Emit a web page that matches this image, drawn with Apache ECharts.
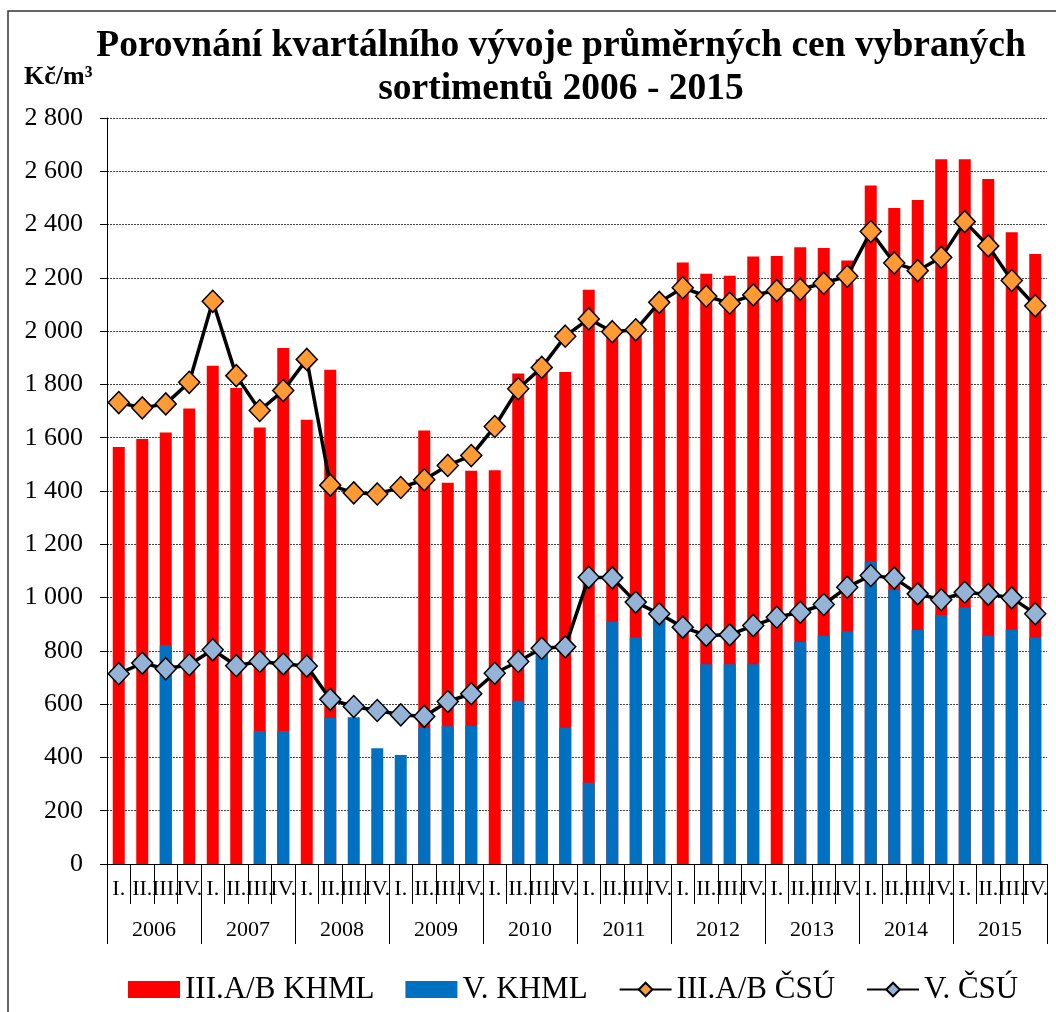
<!DOCTYPE html>
<html>
<head>
<meta charset="utf-8">
<script src="https://cdn.jsdelivr.net/npm/echarts@6/dist/echarts.min.js"></script>
<style>
  html, body { margin: 0; padding: 0; background: #fff; }
  #chart { width: 1056px; height: 1012px; }
</style>
</head>
<body>
<div id="chart"></div>
<script>
// quarters 2006 - 2015
var years = ['2006', '2007', '2008', '2009', '2010', '2011', '2012', '2013', '2014', '2015']
var quarterNames = ['I.', 'II.', 'III.', 'IV.']
var quarters = []
years.forEach(function () { quarters = quarters.concat(quarterNames) })

// bars (null = no value in that quarter)
var khmlAB = [
  1565, 1595, 1620, 1710, 1870, 1787, 1638, 1937,
  1667, 1855, null, null, null, 1627, 1431, 1476,
  1478, 1841, 1894, 1847, 2155, 1990, 1995, 2090,
  2258, 2215, 2208, 2280, 2282, 2315, 2312, 2265,
  2547, 2462, 2492, 2645, 2645, 2571, 2371, 2290
]
var khmlV = [
  null, null, 821, null, null, null, 499, 499,
  null, 549, 551, 434, 409, 510, 517, 519,
  null, 613, 835, 511, 305, 909, 850, 915,
  null, 750, 750, 750, null, 833, 857, 873,
  1134, 1029, 878, 935, 962, 857, 879, 849
]

// lines
var csuAB = [
  1732, 1712, 1727, 1808, 2112, 1833, 1702, 1777,
  1894, 1422, 1393, 1389, 1413, 1442, 1496, 1533,
  1642, 1784, 1864, 1981, 2046, 1998, 2005, 2108,
  2163, 2131, 2105, 2136, 2152, 2157, 2180, 2206,
  2374, 2256, 2227, 2277, 2411, 2320, 2190, 2095
]
var csuV = [
  714, 754, 733, 748, 804, 744, 760, 751,
  743, 618, 591, 576, 560, 554, 610, 639,
  716, 760, 810, 815, 1076, 1074, 983, 939,
  889, 858, 860, 895, 926, 945, 974, 1039,
  1083, 1073, 1014, 992, 1020, 1012, 999, 939
]

var serif = '"Liberation Serif", "Times New Roman", serif'

var chart = echarts.init(document.getElementById('chart'))

function fmtThousands(v) {
  var s = String(v)
  if (s.length > 3) s = s.slice(0, s.length - 3) + ' ' + s.slice(s.length - 3)
  return s
}

chart.setOption({
  animation: false,
  backgroundColor: '#fff',
  graphic: [
    {
      type: 'rect',
      shape: { x: 8, y: 11, width: 1100, height: 1100 },
      style: { fill: 'none', stroke: '#333', lineWidth: 1.5 },
      silent: true
    },
    {
      type: 'text',
      x: 561,
      y: 25,
      style: {
        text: 'Porovnání kvartálního vývoje průměrných cen vybraných\nsortimentů 2006 - 2015',
        font: 'bold 37.5px ' + serif,
        textAlign: 'center',
        lineHeight: 43,
        fill: '#000'
      }
    },
    {
      type: 'text',
      x: 24,
      y: 64,
      style: {
        text: 'Kč/m³',
        font: 'bold 26px ' + serif,
        fill: '#000'
      }
    }
  ],
  legend: {
    left: 123,
    top: 969,
    itemWidth: 52,
    itemHeight: 17,
    itemGap: 31,
    textStyle: { fontFamily: serif, fontSize: 31, color: '#000' },
    data: [
      { name: 'III.A/B KHML', icon: 'rect' },
      { name: 'V. KHML', icon: 'rect' },
      'III.A/B ČSÚ',
      'V. ČSÚ'
    ]
  },
  grid: {
    left: 107,
    right: 9,
    top: 118,
    bottom: 148
  },
  xAxis: [
    {
      type: 'category',
      data: quarters,
      axisLine: { show: true, lineStyle: { color: '#000', width: 1 } },
      axisTick: { show: true, interval: 0, length: 40, lineStyle: { color: '#000', width: 1 } },
      axisLabel: {
        show: true,
        interval: 0,
        hideOverlap: false,
        margin: 14,
        fontFamily: serif,
        fontSize: 22,
        color: '#000'
      }
    },
    {
      type: 'category',
      data: years,
      position: 'bottom',
      axisLine: { show: false },
      axisTick: { show: true, interval: 0, length: 80, lineStyle: { color: '#000', width: 1 } },
      axisLabel: {
        interval: 0,
        hideOverlap: false,
        margin: 55,
        fontFamily: serif,
        fontSize: 22,
        color: '#000'
      }
    }
  ],
  yAxis: {
    type: 'value',
    min: 0,
    max: 2800,
    interval: 200,
    axisLine: { show: true, lineStyle: { color: '#000' } },
    axisTick: { show: true, length: 7, lineStyle: { color: '#000' } },
    axisLabel: {
      margin: 24,
      fontFamily: serif,
      fontSize: 26,
      color: '#000',
      formatter: fmtThousands
    },
    splitLine: { lineStyle: { color: '#444', type: [2, 1], width: 1 } }
  },
  series: [
    {
      name: 'III.A/B KHML',
      type: 'bar',
      data: khmlAB,
      barWidth: 12,
      barGap: '-100%',
      itemStyle: { color: '#ff0000' }
    },
    {
      name: 'V. KHML',
      type: 'bar',
      data: khmlV,
      barWidth: 12,
      barGap: '-100%',
      itemStyle: { color: '#0070c0' }
    },
    {
      name: 'III.A/B ČSÚ',
      type: 'line',
      data: csuAB,
      symbol: 'diamond',
      symbolSize: [21, 22],
      lineStyle: { color: '#000', width: 3.5 },
      itemStyle: { color: '#ff9a35', borderColor: '#000', borderWidth: 1.5 },
      z: 3
    },
    {
      name: 'V. ČSÚ',
      type: 'line',
      data: csuV,
      symbol: 'diamond',
      symbolSize: [21, 22],
      lineStyle: { color: '#000', width: 3.5 },
      itemStyle: { color: '#95b3d7', borderColor: '#000', borderWidth: 1.5 },
      z: 3
    }
  ]
})
</script>
</body>
</html>
